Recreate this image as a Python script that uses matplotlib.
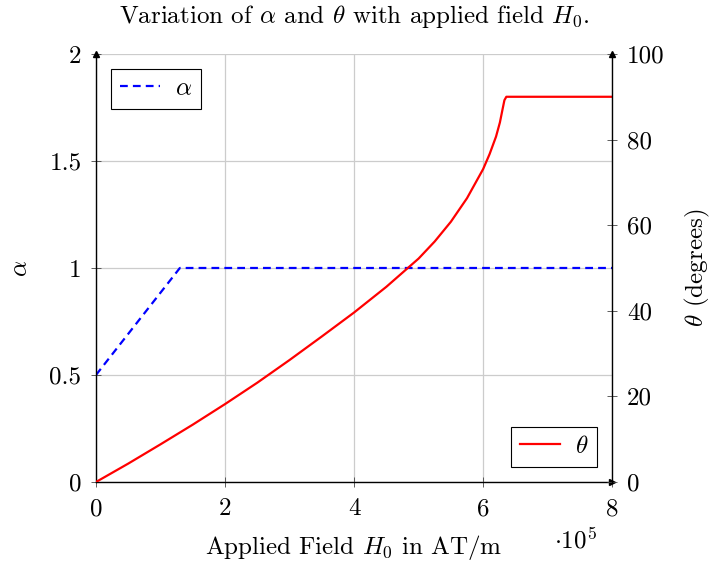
import matplotlib
matplotlib.use("Agg")
import matplotlib.pyplot as plt

plt.rcParams['font.family'] = 'serif'
plt.rcParams['font.serif'] = ['cmr10']
plt.rcParams['mathtext.fontset'] = 'cm'
plt.rcParams['axes.unicode_minus'] = False

# applied field H0 (in units of 1e5 AT/m)
h_alpha = [0, 1.3, 8]
alpha = [0.5, 1.0, 1.0]

h_theta = [0, 0.5, 1, 1.5, 2, 2.5, 3, 3.5, 4, 4.5, 5, 5.25, 5.5, 5.75, 6,
           6.1, 6.2, 6.26, 6.3, 6.33, 6.36, 8]
theta = [0, 4.3, 8.8, 13.4, 18.2, 23.2, 28.5, 34.0, 39.6, 45.6, 52.2, 56.2, 60.8, 66.3, 73.1,
         76.6, 80.7, 84.0, 87.0, 89.2, 90, 90]

x_ticks = [0, 2, 4, 6, 8]
alpha_ticks = [0, 0.5, 1, 1.5, 2]
alpha_labels = ['0', '0.5', '1', '1.5', '2']
theta_ticks = [0, 20, 40, 60, 80, 100]

fs = 18
fig = plt.figure(figsize=(7.11, 5.64), dpi=100)
ax = fig.add_axes([0.135, 0.1454, 0.726, 0.7589])
ax2 = ax.twinx()

ax.set_xlim(0, 8)
ax.set_ylim(0, 2)
ax2.set_ylim(0, 100)
ax.set_xticks(x_ticks)
ax.set_xticklabels([str(t) for t in x_ticks])
ax.set_yticks(alpha_ticks)
ax.set_yticklabels(alpha_labels)
ax2.set_yticks(theta_ticks)
ax2.set_yticklabels([str(t) for t in theta_ticks])

ax.grid(True, color='#cccccc', lw=0.9)
ax.set_axisbelow(True)

la, = ax.plot(h_alpha, alpha, color='blue', lw=1.6, dashes=(3.5, 2.3))
lt, = ax2.plot(h_theta, theta, color='red', lw=1.6)

for s in ['top', 'right']:
    ax.spines[s].set_visible(False)
for s in ['top', 'left', 'bottom']:
    ax2.spines[s].set_visible(False)
for a in (ax, ax2):
    for s in a.spines.values():
        s.set_linewidth(1.0)
        s.set_color('black')
    a.tick_params(direction='inout', length=7, width=0.6, labelsize=fs, color='#444444')
ax.tick_params(axis='x', pad=8)
ax.tick_params(axis='y', pad=7)
ax2.tick_params(axis='y', pad=7)

# axis arrows
ax.plot(0, 1, marker='^', ms=4.5, color='k', transform=ax.transAxes, clip_on=False)
ax.plot(1, 0, marker='>', ms=4.5, color='k', transform=ax.transAxes, clip_on=False)
ax2.plot(1, 1, marker='^', ms=4.5, color='k', transform=ax2.transAxes, clip_on=False)

ax.set_title(r'Variation of $\alpha$ and $\theta$ with applied field $H_0$.', fontsize=fs, pad=22)
ax.set_xlabel(r'Applied Field $H_0$ in AT/m', fontsize=fs, labelpad=9)
ax.set_ylabel(r'$\alpha$', fontsize=fs, labelpad=12)
ax2.set_ylabel(r'$\theta$ (degrees)', fontsize=fs, labelpad=13)
fig.text(575 / 711, 1 - 540 / 564, r'$\cdot 10^5$', fontsize=fs, ha='center', va='center')

leg1 = ax.legend([la], [r'$\alpha$'], loc='upper left', fontsize=fs, fancybox=False,
                 edgecolor='black', framealpha=1, handlelength=1.6, handletextpad=0.6,
                 borderaxespad=0.6, borderpad=0.35)
leg1.get_frame().set_linewidth(0.8)
leg2 = ax2.legend([lt], [r'$\theta$'], loc='lower right', fontsize=fs, fancybox=False,
                  edgecolor='black', framealpha=1, handlelength=1.6, handletextpad=0.6,
                  borderaxespad=0.6, borderpad=0.35)
leg2.get_frame().set_linewidth(0.8)

fig.savefig('out.png', dpi=100)
